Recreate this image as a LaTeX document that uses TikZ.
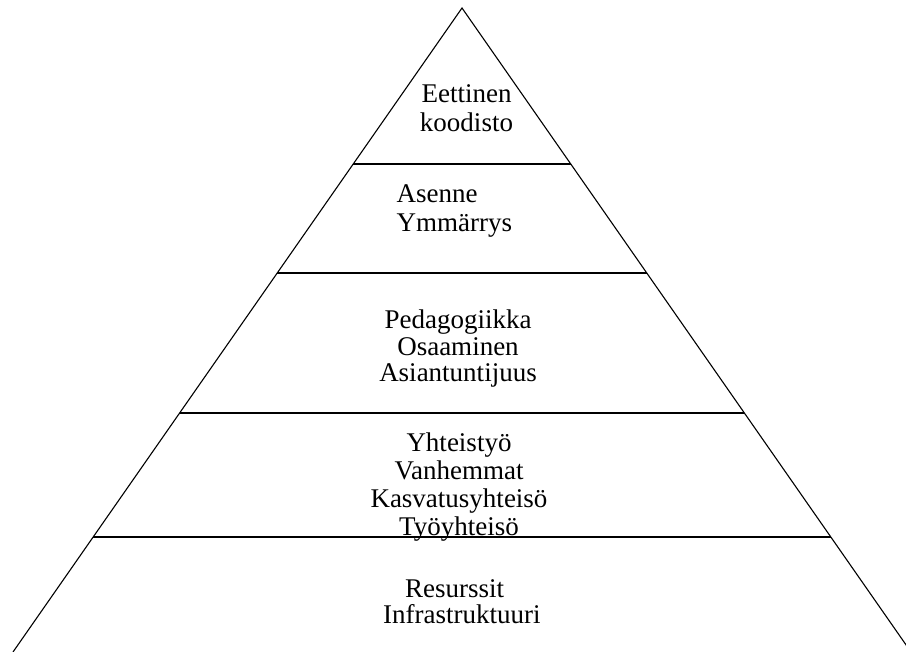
\documentclass[tikz,border=0pt]{standalone}
\usepackage{fontspec}
\setmainfont{Liberation Serif}
\usetikzlibrary{calc}
\begin{document}
\begin{tikzpicture}[x=1pt,y=-1pt,
  edge/.style={line width=1.1pt, draw=black},
  tiertext/.style={font=\fontsize{27}{#1}\selectfont, inner sep=0pt, text=black},
  tiertext/.default=29]
  \useasboundingbox (0,0) rectangle (906,652);
  \clip (0,0) rectangle (906,652);

  % outline of the pyramid
  \coordinate (apex)  at (462,8);
  \coordinate (baseL) at (13,652);
  \coordinate (baseR) at (911,652);
  \draw[edge] (baseL) -- (apex) -- (baseR);

  % tier separators, ending on the two sides
  \foreach \name/\t in {a/0.2422, b/0.4115, c/0.6289, d/0.8214} {
    \coordinate (\name L) at ($(apex)!\t!(baseL)$);
    \coordinate (\name R) at ($(apex)!\t!(baseR)$);
  }
  \draw[edge] (aL) -- (aR);
  \draw[edge] (bL) -- (bR);
  \draw[edge] (cL) -- (cR);
  \draw[edge] (dL) -- (dR);

  % tier labels
  \node[tiertext, anchor=base] (t1) at (466.5,103)
    {\begin{tabular}[t]{@{}c@{}}Eettinen\\koodisto\end{tabular}};
  \node[tiertext, anchor=base west] (t2) at (396.5,203)
    {\begin{tabular}[t]{@{}l@{}}Asenne\\Ymmärrys\end{tabular}};
  \node[tiertext=26.5, anchor=base] (t3) at (458,329)
    {\begin{tabular}[t]{@{}c@{}}Pedagogiikka\\Osaaminen\\Asiantuntijuus\end{tabular}};
  \node[tiertext=28, anchor=base] (t4) at (459,452)
    {\begin{tabular}[t]{@{}c@{}}Yhteistyö\\Vanhemmat\\Kasvatusyhteisö\\Työyhteisö\end{tabular}};
  \node[tiertext=26, anchor=base west] (t5) at (383,597)
    {\begin{tabular}[t]{@{}l@{}}\hspace{22pt}Resurssit\\Infrastruktuuri\end{tabular}};
\end{tikzpicture}
\end{document}
